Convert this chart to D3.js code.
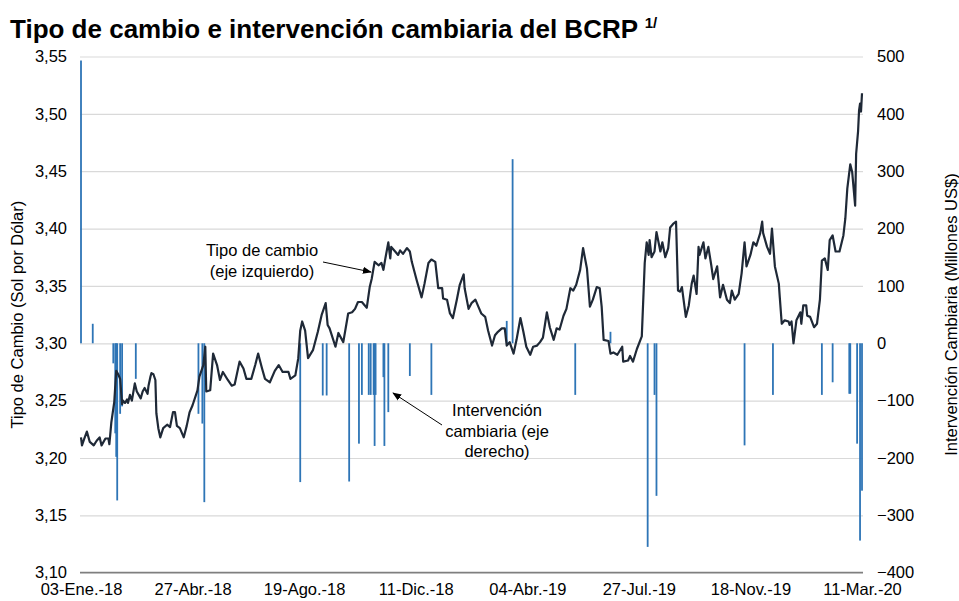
<!DOCTYPE html>
<html>
<head>
<meta charset="utf-8">
<script src="https://cdn.jsdelivr.net/npm/d3@7"></script>
<style>
  body { margin: 0; background: #fff; }
  svg { font-family: "Liberation Sans", Arial, sans-serif; }
</style>
</head>
<body>
<div id="chart"></div>
<script>
// inicio de la serie (día 0 = 03-Ene.-18)
var inicio = "2018-01-03";

// tipo de cambio: día desde el inicio y valor (S/ por US$)
var diasTC = [0, 1, 3, 6, 9, 13, 16, 19, 21, 25, 28, 29, 31, 34, 36, 38, 40, 42, 43, 45,
  47, 48, 50, 52, 53, 55, 57, 59, 61, 63, 65, 68, 69, 71, 72, 74, 76, 77, 79, 81,
  84, 88, 91, 94, 96, 98, 101, 105, 108, 111, 114, 119, 121, 125, 127, 128, 132, 135, 139, 142,
  145, 150, 154, 157, 162, 166, 169, 174, 178, 181, 185, 188, 193, 198, 202, 206, 212, 214, 219, 222,
  224, 226, 229, 232, 237, 242, 246, 250, 252, 254, 260, 263, 268, 273, 277, 280, 283, 287, 290, 292,
  295, 297, 300, 304, 307, 309, 311, 314, 316, 317, 321, 324, 326, 329, 333, 336, 338, 343, 348, 351,
  355, 358, 362, 365, 369, 370, 374, 377, 380, 384, 387, 391, 392, 396, 399, 403, 406, 409, 413, 416,
  420, 423, 426, 430, 433, 435, 438, 442, 445, 449, 452, 455, 459, 462, 466, 469, 472, 476, 479, 483,
  486, 489, 493, 496, 500, 503, 506, 510, 513, 517, 520, 523, 527, 530, 532, 534, 539, 541, 544, 548,
  553, 554, 559, 561, 564, 568, 573, 576, 578, 580, 581, 583, 586, 588, 592, 594, 597, 600, 602, 605,
  608, 610, 612, 614, 618, 621, 624, 626, 629, 631, 632, 636, 638, 641, 644, 646, 650, 653, 656, 660,
  663, 665, 668, 672, 675, 678, 680, 684, 687, 690, 694, 696, 697, 701, 704, 706, 709, 713, 714, 716,
  719, 723, 724, 726, 728, 731, 735, 736, 738, 741, 742, 745, 749, 752, 755, 757, 760, 763, 765, 768,
  771, 775, 779, 781, 783, 786, 788, 791, 792, 794, 795, 796, 797, 798];
var tipoCambio = [3.218, 3.211, 3.216, 3.223, 3.214, 3.211, 3.215, 3.218, 3.211, 3.217, 3.217, 3.212, 3.231, 3.249, 3.276, 3.273, 3.269, 3.247, 3.250, 3.248,
  3.251, 3.248, 3.255, 3.250, 3.255, 3.265, 3.258, 3.255, 3.252, 3.258, 3.261, 3.256, 3.263, 3.271, 3.274, 3.273, 3.268, 3.239, 3.226, 3.218,
  3.226, 3.229, 3.227, 3.240, 3.240, 3.228, 3.226, 3.218, 3.228, 3.240, 3.246, 3.259, 3.271, 3.281, 3.297, 3.258, 3.259, 3.291, 3.281, 3.268,
  3.275, 3.268, 3.263, 3.264, 3.284, 3.278, 3.269, 3.269, 3.281, 3.291, 3.278, 3.269, 3.266, 3.276, 3.281, 3.275, 3.275, 3.269, 3.272, 3.287,
  3.311, 3.319, 3.311, 3.287, 3.294, 3.310, 3.325, 3.335, 3.316, 3.313, 3.297, 3.309, 3.301, 3.326, 3.327, 3.330, 3.336, 3.336, 3.333, 3.331,
  3.349, 3.356, 3.371, 3.368, 3.370, 3.364, 3.374, 3.388, 3.374, 3.384, 3.380, 3.377, 3.381, 3.378, 3.383, 3.380, 3.371, 3.355, 3.340, 3.352,
  3.370, 3.373, 3.371, 3.348, 3.348, 3.339, 3.338, 3.326, 3.322, 3.338, 3.351, 3.360, 3.348, 3.330, 3.335, 3.338, 3.332, 3.326, 3.323, 3.311,
  3.298, 3.307, 3.310, 3.313, 3.313, 3.298, 3.301, 3.291, 3.303, 3.322, 3.310, 3.297, 3.290, 3.297, 3.298, 3.301, 3.305, 3.327, 3.314, 3.303,
  3.313, 3.312, 3.324, 3.330, 3.348, 3.346, 3.351, 3.364, 3.383, 3.365, 3.332, 3.338, 3.349, 3.348, 3.332, 3.303, 3.302, 3.291, 3.292, 3.290,
  3.297, 3.284, 3.285, 3.289, 3.284, 3.295, 3.306, 3.370, 3.388, 3.377, 3.390, 3.375, 3.380, 3.397, 3.380, 3.388, 3.375, 3.383, 3.401, 3.404,
  3.406, 3.346, 3.345, 3.349, 3.323, 3.333, 3.352, 3.359, 3.343, 3.384, 3.377, 3.388, 3.374, 3.384, 3.368, 3.356, 3.367, 3.340, 3.351, 3.338,
  3.335, 3.346, 3.338, 3.343, 3.361, 3.388, 3.367, 3.377, 3.388, 3.385, 3.396, 3.406, 3.396, 3.384, 3.378, 3.400, 3.367, 3.352, 3.340, 3.317,
  3.320, 3.319, 3.316, 3.319, 3.300, 3.320, 3.327, 3.317, 3.333, 3.333, 3.324, 3.323, 3.314, 3.317, 3.338, 3.372, 3.374, 3.364, 3.390, 3.394,
  3.380, 3.380, 3.394, 3.409, 3.435, 3.456, 3.449, 3.420, 3.465, 3.485, 3.503, 3.509, 3.502, 3.518];

// intervención cambiaria: día desde el inicio y monto (millones US$)
var diasInt = [0, 12, 33, 35, 36, 37, 40, 42, 56, 120, 124, 126, 224, 247, 251, 274, 284, 287, 294, 296,
  299, 300, 301, 309, 310, 314, 336, 358, 435, 441, 505, 541, 579, 586, 588, 678, 707, 757, 768, 785,
  786, 793, 796, 798];
var intervencion = [493, 34, -35, -157, -198, -274, -123, -110, -62, -123, -140, -277, -242, -91, -91, -241, -175, -90, -90, -90,
  -90, -179, -90, -59, -179, -120, -57, -90, 39, 321, -90, 20, -355, -90, -266, -178, -90, -90, -68, -88,
  -88, -175, -344, -257];

// eje horizontal
var fechasTick = ["2018-01-03", "2018-04-27", "2018-08-19", "2018-12-11", "2019-04-04", "2019-07-27", "2019-11-18", "2020-03-11"];
var etiquetasTick = ["03-Ene.-18", "27-Abr.-18", "19-Ago.-18", "11-Dic.-18", "04-Abr.-19", "27-Jul.-19", "18-Nov.-19", "11-Mar.-20"];
var ticksIzq = [3.10, 3.15, 3.20, 3.25, 3.30, 3.35, 3.40, 3.45, 3.50, 3.55];
var ticksDer = [-400, -300, -200, -100, 0, 100, 200, 300, 400, 500];

var W = 959, H = 601;
var pLeft = 80, pRight = 863, pTop = 56.5, pBottom = 572.7;

var parse = d3.timeParse("%Y-%m-%d");
var t0 = parse(inicio);
function fecha(d) { return d3.timeDay.offset(t0, d); }

var svg = d3.select("#chart").append("svg")
  .attr("width", W)
  .attr("height", H);

// escalas
var x = d3.scaleTime()
  .domain([parse(fechasTick[0]), parse(fechasTick[fechasTick.length - 1])])
  .range([81, 862]);
var yIzq = d3.scaleLinear().domain([3.10, 3.55]).range([pBottom, pTop]);
var yDer = d3.scaleLinear().domain([-400, 500]).range([pBottom, pTop]);

var es = d3.formatLocale({ decimal: ",", thousands: ".", grouping: [3], currency: ["S/", ""] });

// lineas de la grilla
svg.append("g")
  .attr("transform", "translate(" + pLeft + ",0)")
  .call(d3.axisLeft(yIzq).tickValues(ticksIzq.slice(1)).tickSize(-(pRight - pLeft)).tickFormat(""))
  .call(function (g) { g.select(".domain").remove(); })
  .selectAll("line").attr("stroke", "#d9d9d9").attr("stroke-width", 1.2);

// eje izquierdo
svg.append("g")
  .attr("transform", "translate(67,0)")
  .call(d3.axisLeft(yIzq).tickValues(ticksIzq).tickSize(0).tickPadding(0).tickFormat(es.format(".2f")))
  .call(function (g) { g.select(".domain").remove(); })
  .selectAll("text").attr("font-size", 16.5).attr("fill", "#000");

// eje derecho
svg.append("g")
  .attr("transform", "translate(877,0)")
  .call(d3.axisRight(yDer).tickValues(ticksDer).tickSize(0).tickPadding(0))
  .call(function (g) { g.select(".domain").remove(); })
  .selectAll("text").attr("font-size", 16.5).attr("fill", "#000");

// eje inferior
svg.append("line")
  .attr("x1", pLeft).attr("x2", pRight)
  .attr("y1", pBottom).attr("y2", pBottom)
  .attr("stroke", "#7f7f7f").attr("stroke-width", 1.8);

svg.append("g")
  .attr("transform", "translate(0," + (pBottom + 11) + ")")
  .call(d3.axisBottom(x).tickValues(fechasTick.map(parse)).tickSize(0).tickPadding(0)
    .tickFormat(function (d, i) { return etiquetasTick[i]; }))
  .call(function (g) { g.select(".domain").remove(); })
  .selectAll("text").attr("font-size", 16.5).attr("fill", "#000");

// barras de intervención
svg.append("g").selectAll("rect")
  .data(diasInt)
  .join("rect")
  .attr("x", function (d) { return x(fecha(d)) - 0.9; })
  .attr("width", 1.8)
  .attr("y", function (d, i) { return Math.min(yDer(0), yDer(intervencion[i])); })
  .attr("height", function (d, i) { return Math.abs(yDer(intervencion[i]) - yDer(0)); })
  .attr("fill", "#2e75b6");

// linea del tipo de cambio
var linea = d3.line()
  .x(function (d) { return x(fecha(d)); })
  .y(function (d, i) { return yIzq(tipoCambio[i]); });

svg.append("path")
  .datum(diasTC)
  .attr("d", linea)
  .attr("fill", "none")
  .attr("stroke", "#1f2937")
  .attr("stroke-width", 2.2)
  .attr("stroke-linejoin", "round");

// titulo
var titulo = svg.append("text")
  .attr("x", 10).attr("y", 38)
  .attr("font-size", 26).attr("font-weight", "bold");
titulo.append("tspan").text("Tipo de cambio e intervención cambiaria del BCRP ");
titulo.append("tspan").attr("font-size", 15).attr("dy", -10).text("1/");

// titulos de ejes
svg.append("text")
  .attr("transform", "translate(23," + ((pTop + pBottom) / 2) + ") rotate(-90)")
  .attr("text-anchor", "middle")
  .attr("font-size", 16.5)
  .text("Tipo de Cambio (Sol por Dólar)");

svg.append("text")
  .attr("transform", "translate(957," + ((pTop + pBottom) / 2) + ") rotate(-90)")
  .attr("text-anchor", "middle")
  .attr("font-size", 16.5)
  .text("Intervención Cambiaria (Millones US$)");

// anotaciones
svg.append("defs").append("marker")
  .attr("id", "flecha")
  .attr("viewBox", "0 0 10 10")
  .attr("refX", 9).attr("refY", 5)
  .attr("markerWidth", 9).attr("markerHeight", 9)
  .attr("orient", "auto")
  .append("path").attr("d", "M0,1 L10,5 L0,9 Z").attr("fill", "#000");

function nota(lineas, cx, y0, paso) {
  var t = svg.append("text").attr("text-anchor", "middle").attr("font-size", 16.5);
  lineas.forEach(function (l, i) {
    t.append("tspan").attr("x", cx).attr("y", y0 + i * paso).text(l);
  });
}
nota(["Tipo de cambio", "(eje izquierdo)"], 262, 256, 21);
nota(["Intervención", "cambiaria (eje", "derecho)"], 497, 416, 20.5);

svg.append("line")
  .attr("x1", 323).attr("y1", 262).attr("x2", 371).attr("y2", 272)
  .attr("stroke", "#000").attr("stroke-width", 1)
  .attr("marker-end", "url(#flecha)");
svg.append("line")
  .attr("x1", 442).attr("y1", 425).attr("x2", 393).attr("y2", 393)
  .attr("stroke", "#000").attr("stroke-width", 1)
  .attr("marker-end", "url(#flecha)");
</script>
</body>
</html>
